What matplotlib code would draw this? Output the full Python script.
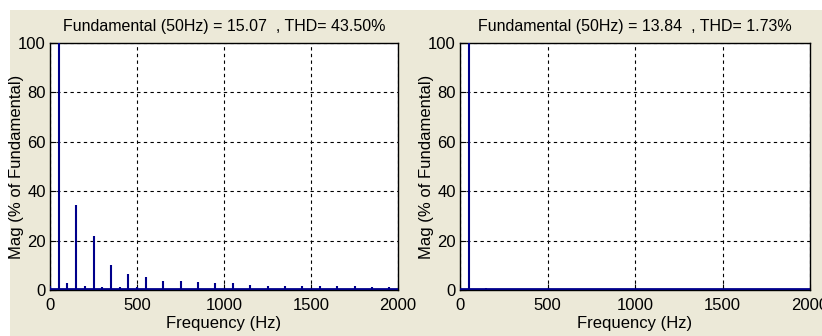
import matplotlib
matplotlib.use("Agg")
import matplotlib.pyplot as plt

# harmonic spectrum, % of fundamental
freqs_a = [0, 50, 100, 150, 200, 250, 300, 350, 400, 450, 500, 550, 650, 750, 850,
           950, 1050, 1150, 1250, 1350, 1450, 1550, 1650, 1750, 1850, 1950]
mags_a = [1.5, 100, 2.7, 34.6, 1.6, 21.8, 1.1, 10.1, 1.1, 6.5, 1.3, 5.4, 3.8, 3.8, 3.2,
          2.7, 2.7, 2.2, 1.6, 1.6, 1.6, 1.6, 1.6, 1.6, 1.1, 1.1]
freqs_b = [0, 50, 150]
mags_b = [0.3, 100, 1.0]

titles = ["Fundamental (50Hz) = 15.07  , THD= 43.50%",
          "Fundamental (50Hz) = 13.84  , THD= 1.73%"]
xticks = [0, 500, 1000, 1500, 2000]
yticks = [0, 20, 40, 60, 80, 100]

bg = "#ece9d8"
blue = "#00008b"
plt.rcParams["font.family"] = ["Liberation Sans", "DejaVu Sans"]

fig = plt.figure(figsize=(8.22, 3.36), dpi=100, facecolor="white")
# beige panel area (white strip on top and left edge)
fig.patches.append(plt.Rectangle((10 / 822, 0), 1, 1 - 10 / 336, transform=fig.transFigure,
                                 facecolor=bg, edgecolor="none", zorder=-1))

boxes = [(50, 398), (460, 810)]
top, bottom = 43, 290
for (x0, x1), fr, mg, title in zip(boxes, [freqs_a, freqs_b], [mags_a, mags_b], titles):
    w = x1 - x0
    ax = fig.add_axes([x0 / 822, 1 - bottom / 336, w / 822, (bottom - top) / 336])
    ax.set_facecolor("white")
    ax.vlines(fr, 0, mg, color=blue, lw=1.5, zorder=3)
    ax.axhline(0.3, color=blue, lw=2, zorder=3)
    ax.set_xlim(0, 2000)
    ax.set_ylim(0, 100)
    ax.set_xticks(xticks)
    ax.set_yticks(yticks)
    ax.grid(True, color="black", linestyle=(0, (3, 3)), linewidth=0.8)
    ax.tick_params(direction="in", length=4, labelsize=12, color="black")
    ax.tick_params(axis="x", pad=6)
    ax.tick_params(axis="y", pad=3)
    for s in ax.spines.values():
        s.set_linewidth(1)
    ax.set_title(title, fontsize=11.5, pad=9)
    ax.set_xlabel("Frequency (Hz)", fontsize=12, labelpad=2)
    ax.set_ylabel("Mag (% of Fundamental)", fontsize=12)
    ax.yaxis.set_label_coords(-26 / w, 0.5)

fig.savefig("out.png", dpi=100, facecolor=fig.get_facecolor())
